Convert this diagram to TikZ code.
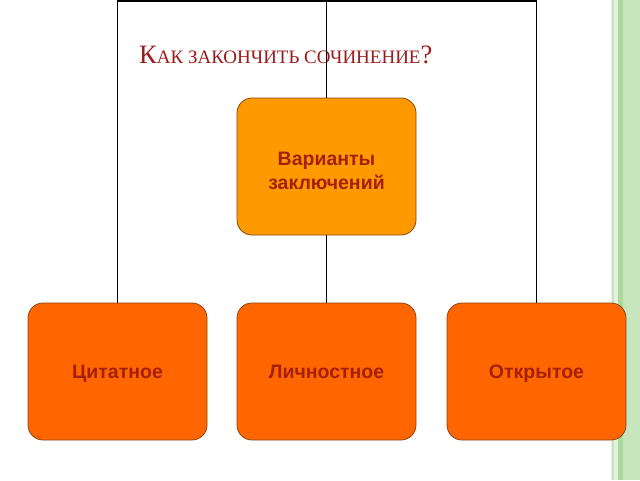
\documentclass[tikz,border=0pt]{standalone}
\usepackage{fontspec}
\setmainfont{Liberation Serif}
\newfontfamily\boxfont{Liberation Sans}
\definecolor{titlered}{HTML}{9A1C1C}
\definecolor{boxtext}{HTML}{A5200A}
\definecolor{boxedge}{HTML}{8B4513}
\definecolor{orangeA}{HTML}{FF9900}
\definecolor{orangeB}{HTML}{FF6600}
\definecolor{greenA}{HTML}{C8E6BE}
\definecolor{greenB}{HTML}{A9D99B}
\definecolor{greenC}{HTML}{E3F2DE}
\newcommand{\bigC}[1]{{\fontsize{26.5}{30}\selectfont #1}}
\newcommand{\smC}[1]{{\fontsize{19}{22}\selectfont #1}}
\begin{document}
\begin{tikzpicture}[x=1pt,y=-1pt,
  varbox/.style={draw=boxedge, line width=0.8pt, rounded corners=15pt, minimum width=179pt, minimum height=137pt, inner sep=0pt},
  boxlabel/.style={text=boxtext, font=\boxfont\bfseries\fontsize{19.5}{22}\selectfont, align=center, inner sep=0pt},
  conn/.style={draw=black, line width=1.8pt}]
\useasboundingbox (0,0) rectangle (640,480);
\fill[white] (0,0) rectangle (640,480);
% green stripes on the right
\fill[greenC] (611,0) rectangle (618,480);
\fill[greenA] (612,0) rectangle (613.5,480);
\fill[greenB] (618,0) rectangle (623,480);
\fill[greenA] (623,0) rectangle (640,480);
% title
\node[anchor=base west, inner sep=0pt, text=titlered] (title) at (139,63)
  {\bigC{К}\smC{АК ЗАКОНЧИТЬ СОЧИНЕНИЕ}\bigC{?}};
% boxes
\node[varbox, fill=orangeA] (top) at (326.5,166.5) {};
\node[varbox, fill=orangeB] (left) at (117.5,371.5) {};
\node[varbox, fill=orangeB] (mid) at (326.5,371.5) {};
\node[varbox, fill=orangeB] (right) at (536.5,371.5) {};
\node[boxlabel, anchor=base] (topl1) at (326.5,165) {Варианты};
\node[boxlabel, anchor=base] (topl2) at (326.5,189) {заключений};
\node[boxlabel, anchor=base] (leftl) at (117.5,378.5) {Цитатное};
\node[boxlabel, anchor=base] (midl) at (326.5,378.5) {Личностное};
\node[boxlabel, anchor=base] (rightl) at (536.5,378.5) {Открытое};
% connectors
\coordinate (tl) at (117.5,1);
\coordinate (tm) at (326.5,1);
\coordinate (tr) at (536.5,1);
\draw[conn] (left.north) -- (tl) -- (tr) -- (right.north);
\draw[conn] (tm) -- (top.north);
\draw[conn] (top.south) -- (mid.north);
\end{tikzpicture}
\end{document}
